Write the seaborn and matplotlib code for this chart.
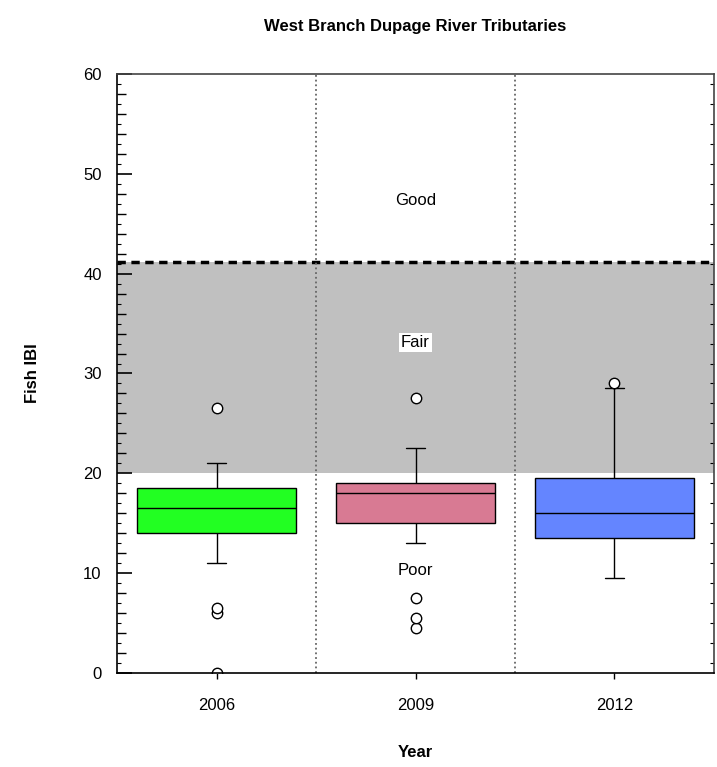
import numpy as np
import pandas as pd
import matplotlib
matplotlib.use("Agg")
import matplotlib.pyplot as plt
from matplotlib.ticker import MultipleLocator, FuncFormatter
import seaborn as sns

# Fish IBI scores per site, by sampling year
years = ["2006", "2009", "2012"]
ibi_2006 = [0, 6, 6.5, 11, 14, 14.5, 15, 16, 16.5, 17, 17.5, 18, 18.5, 19, 20, 21, 26.5]
ibi_2009 = [4.5, 5.5, 7.5, 13, 15, 16, 17, 17.5, 18, 18.5, 18.5, 19, 19, 20, 21, 22.5, 27.5]
ibi_2012 = [9.5, 11, 12.5, 13.5, 14.5, 15, 16, 17, 18.5, 19.5, 22, 28.5, 29]
box_colors = ["#22FF22", "#D87A93", "#6485FF"]

# Condition class thresholds and labels
fair_lower = 20.0
good_lower = 41.2
class_labels = ["Good", "Fair", "Poor"]
class_label_y = [47.3, 33.1, 10.3]

df = pd.DataFrame({
    "Year": [years[0]] * len(ibi_2006) + [years[1]] * len(ibi_2009) + [years[2]] * len(ibi_2012),
    "IBI": ibi_2006 + ibi_2009 + ibi_2012,
})

sns.set_style("ticks")
plt.rcParams["font.family"] = ["Liberation Sans", "DejaVu Sans"]
plt.rcParams.update({"text.color": "black", "axes.labelcolor": "black",
                     "xtick.color": "black", "ytick.color": "black"})

fig = plt.figure(figsize=(7.17, 7.67), dpi=100)
ax = fig.add_axes([0.1632, 0.1226, 0.8326, 0.7809])

# Fair band and Good threshold
ax.axhspan(fair_lower, good_lower, color="#C0C0C0", zorder=0, lw=0)
ax.axhline(good_lower, color="black", lw=2.5, ls=(0, (2.4, 1.6)), zorder=1)

# Dotted separators between years
for xsep in [0.5, 1.5]:
    ax.axvline(xsep, color="#666666", lw=1.3, ls=(0, (1, 1.6)), zorder=1)

sns.boxplot(
    data=df, x="Year", y="IBI", hue="Year", order=years, hue_order=years,
    palette=dict(zip(years, box_colors)), saturation=1, width=0.8,
    linecolor="black", linewidth=1, legend=False, ax=ax, dodge=False,
    capwidths=0.1,
    flierprops=dict(marker="o", markerfacecolor="white", markeredgecolor="black",
                    markersize=7.5, markeredgewidth=1),
)

for lab, yv in zip(class_labels, class_label_y):
    kw = {}
    if lab == "Fair":
        kw["bbox"] = dict(facecolor="white", edgecolor="none", pad=1.5)
    ax.text(1, yv, lab, ha="center", va="center", fontsize=12, color="black", zorder=3, **kw)

ax.set_xlim(-0.5, 2.5)
ax.set_ylim(0, 60)
# ticks every 2 (labelled every 10), tiny ticks every 1
ax.yaxis.set_major_locator(MultipleLocator(2))
ax.yaxis.set_major_formatter(FuncFormatter(lambda v, p: f"{v:.0f}" if round(v) % 10 == 0 else ""))
ax.yaxis.set_minor_locator(MultipleLocator(1))
ax.tick_params(axis="y", which="major", direction="in", length=11, width=1.2,
               labelsize=12, pad=11, right=False)
ax.tick_params(axis="y", which="minor", direction="in", length=3, width=0.8, right=True)
ax.tick_params(axis="x", which="major", direction="out", length=4, width=1, labelsize=12, pad=14)
fig.canvas.draw()
for t in ax.yaxis.get_major_ticks():
    v = t.get_loc()
    if round(v) % 10 != 0:
        t.tick1line.set_markersize(6.5)
        t.tick1line.set_markeredgewidth(1.0)

for sp in ax.spines.values():
    sp.set_visible(True)
    sp.set_linewidth(1.2)
    sp.set_color("#444444")
ax.spines["left"].set_color("black")
ax.spines["bottom"].set_color("black")

ax.set_xlabel("Year", fontsize=12, fontweight="bold", labelpad=23)
ax.set_ylabel("Fish IBI", fontsize=12, fontweight="bold", labelpad=31)
ax.set_title("West Branch Dupage River Tributaries", fontsize=12, fontweight="bold", pad=31)

fig.savefig("out.png", dpi=100)
